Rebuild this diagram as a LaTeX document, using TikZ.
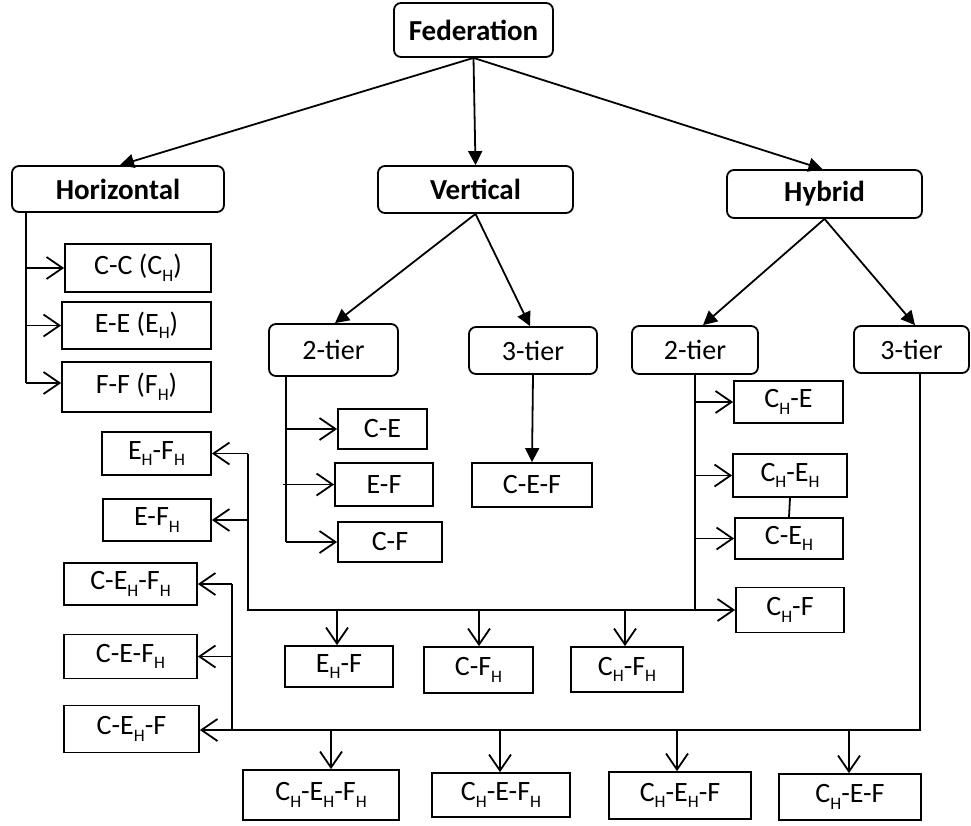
\documentclass[tikz,border=0pt]{standalone}
\usepackage{fontspec}
\setmainfont{Carlito}
\usetikzlibrary{arrows.meta,calc}
\newcommand\Hs{\raisebox{-6.5pt}{\fontsize{17.5}{17.5}\selectfont H}}
\begin{document}
\begin{tikzpicture}[x=1pt,y=-1pt,
  lw/.style={line width=1.8pt},
  rbox/.style={draw,lw,rounded corners=7pt,inner sep=0pt,font=\fontsize{28}{30}\selectfont},
  tbox/.style={rbox,font=\bfseries\fontsize{29}{31}\selectfont},
  sbox/.style={draw,lw,inner sep=0pt,font=\fontsize{28}{30}\selectfont},
  fa/.style={lw,-{Triangle[length=14pt,width=14pt]}},
  oa/.style={lw,-{Straight Barb[length=16pt,width=22pt,line width=1.8pt]}},
  ln/.style={lw}]
\useasboundingbox (0,0) rectangle (971,825);
% top level
\node[tbox,minimum width=159,minimum height=54] (fed) at (473.5,30) {Federation};
\node[tbox,minimum width=212,minimum height=46] (hor) at (118,189) {Horizontal};
\node[tbox,minimum width=195,minimum height=47] (ver) at (475.5,189.5) {Vertical};
\node[tbox,minimum width=195,minimum height=48] (hyb) at (824.5,194) {Hybrid};
% tiers
\node[rbox,minimum width=129,minimum height=52] (v2) at (333.5,350) {2-tier};
\node[rbox,minimum width=128,minimum height=47] (v3) at (533,350.5) {3-tier};
\node[rbox,minimum width=126,minimum height=48] (h2) at (695,350) {2-tier};
\node[rbox,minimum width=115,minimum height=47] (h3) at (911.5,349.5) {3-tier};
% horizontal children
\node[sbox,minimum width=146,minimum height=48] (cc) at (138,268) {C-C (C\Hs)};
\node[sbox,minimum width=149,minimum height=47] (ee) at (136.5,325.5) {E-E (E\Hs)};
\node[sbox,minimum width=149,minimum height=50] (ff) at (136.5,387) {F-F (F\Hs)};
% vertical children
\node[sbox,minimum width=89,minimum height=40] (ce) at (382.5,429) {C-E};
\node[sbox,minimum width=98,minimum height=43] (ef) at (384,484.5) {E-F};
\node[sbox,minimum width=104,minimum height=40] (cf) at (390,542) {C-F};
\node[sbox,minimum width=120,minimum height=44] (cef) at (532,485) {C-E-F};
% hybrid 2-tier children
\node[sbox,minimum width=109,minimum height=42] (che) at (788.5,402) {C\Hs-E};
\node[sbox,minimum width=114,minimum height=43] (cheh) at (790,475.5) {C\Hs-E\Hs};
\node[sbox,minimum width=108,minimum height=41] (ceh) at (789,538.5) {C-E\Hs};
\node[sbox,minimum width=108,minimum height=45] (chf) at (790,610) {C\Hs-F};
\node[sbox,minimum width=109,minimum height=43] (ehfh) at (156.5,453.5) {E\Hs-F\Hs};
\node[sbox,minimum width=108,minimum height=42] (efh) at (157,520) {E-F\Hs};
\node[sbox,minimum width=108,minimum height=41] (ehf) at (339,666.5) {E\Hs-F};
\node[sbox,minimum width=109,minimum height=46] (cfh) at (478.5,670) {C-F\Hs};
\node[sbox,minimum width=112,minimum height=45] (chfh) at (627,669.5) {C\Hs-F\Hs};
% hybrid 3-tier children
\node[sbox,minimum width=133,minimum height=42] (cehfh) at (130.5,584) {C-E\Hs-F\Hs};
\node[sbox,minimum width=133,minimum height=44] (cefh) at (130.5,656.5) {C-E-F\Hs};
\node[sbox,minimum width=135,minimum height=47] (cehf) at (131.5,729) {C-E\Hs-F};
\node[sbox,minimum width=156,minimum height=50] (chehfh) at (321,795) {C\Hs-E\Hs-F\Hs};
\node[sbox,minimum width=138,minimum height=44] (chefh) at (501,795) {C\Hs-E-F\Hs};
\node[sbox,minimum width=142,minimum height=47] (chehf) at (680,795.5) {C\Hs-E\Hs-F};
\node[sbox,minimum width=142,minimum height=46] (chef) at (850,797) {C\Hs-E-F};
% filled arrows
\draw[fa] (fed.south) -- ($(hor.north)+(2,0)$);
\draw[fa] (fed.south) -- (ver.north);
\draw[fa] (fed.south) -- ($(hyb.north)+(-2,0)$);
\draw[fa] (ver.south) -- ($(v2.north)+(1.5,0)$);
\draw[fa] (ver.south) -- ($(v3.north)+(-3,0)$);
\draw[fa] (hyb.south) -- ($(h2.north)+(8,0)$);
\draw[fa] (hyb.south) -- ($(h3.north)+(3.5,0)$);
\draw[fa] (v3.south) -- (cef.north);
% horizontal bus
\coordinate (hb0) at (26,212);
\coordinate (hb1) at (26,383);
\draw[ln] (hb0) -- (hb1);
\draw[oa] (hb0 |- cc.west) -- (cc.west);
\draw[oa] (hb0 |- ee.west) -- (ee.west);
\draw[oa] (hb1) -- (hb1 -| ff.west);
% vertical 2-tier bus
\coordinate (vb0) at (286,376);
\coordinate (vb1) at (286,542);
\draw[ln] (vb0) -- (vb1);
\draw[oa] (vb0 |- ce.west) -- (ce.west);
\draw[oa] ($(vb0 |- ef.west)+(-3,0)$) -- (ef.west);
\draw[oa] (vb1) -- (cf.west);
% hybrid 2-tier bus
\coordinate (hb2) at (h2.south);
\coordinate (hb3) at (695,610);
\draw[ln] (hb2) -- (hb3);
\draw[oa] (hb2 |- che.west) -- (che.west);
\draw[oa] (hb2 |- cheh.west) -- (cheh.west);
\draw[oa] (hb2 |- ceh.west) -- (ceh.west);
\draw[oa] (hb3) -- (chf.west);
\draw[ln] (cheh.south) -- (ceh.north);
\coordinate (lb0) at (248,610);
\coordinate (lb1) at (248,453.5);
\draw[ln] (hb3) -- (lb0) -- (lb1);
\draw[oa] (lb1) -- (ehfh.east);
\draw[oa] (lb0 |- efh.east) -- (efh.east);
\draw[oa] (lb0 -| 337,0) -- (337,0 |- ehf.north);
\draw[oa] (lb0 -| 479,0) -- (479,0 |- cfh.north);
\draw[oa] (lb0 -| 625,0) -- (625,0 |- chfh.north);
% hybrid 3-tier bus
\coordinate (tb0) at (h3.south -| 920,0);
\coordinate (tb1) at (920,730);
\coordinate (tb2) at (232,730);
\coordinate (tb3) at (232,584);
\draw[ln] (tb0) -- (tb1) -- (tb2) -- (tb3);
\draw[oa] (tb3) -- (cehfh.east);
\draw[oa] (tb2 |- cefh.east) -- (cefh.east);
\draw[oa] (tb2) -- (tb2 -| cehf.east);
\draw[oa] (tb1 -| 331,0) -- (331,0 |- chehfh.north);
\draw[oa] (tb1 -| 500,0) -- (500,0 |- chefh.north);
\draw[oa] (tb1 -| 677,0) -- (677,0 |- chehf.north);
\draw[oa] (tb1 -| 849,0) -- (849,0 |- chef.north);
\end{tikzpicture}
\end{document}
